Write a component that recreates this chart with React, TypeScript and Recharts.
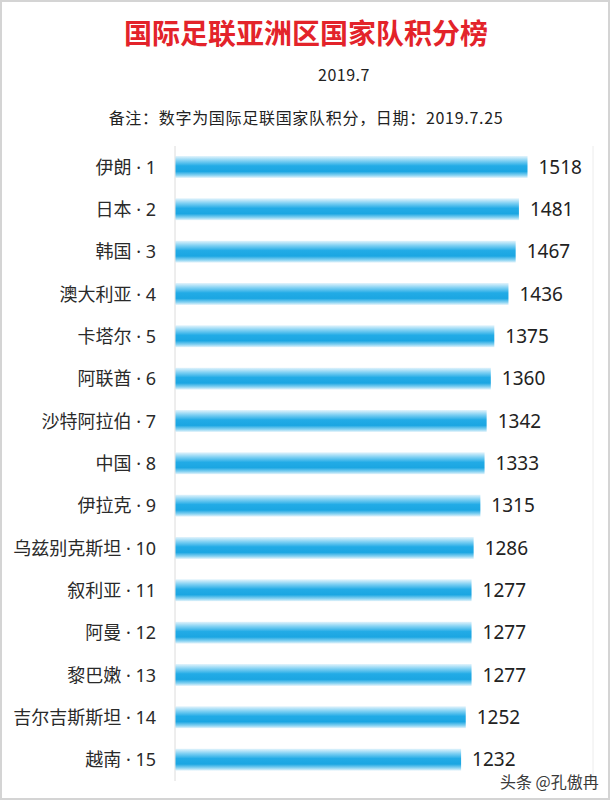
import React from "react";
import { BarChart, Bar, XAxis, YAxis, CartesianGrid, LabelList } from "recharts";

const countries = [
  "伊朗", "日本", "韩国", "澳大利亚", "卡塔尔", "阿联酋", "沙特阿拉伯", "中国",
  "伊拉克", "乌兹别克斯坦", "叙利亚", "阿曼", "黎巴嫩", "吉尔吉斯斯坦", "越南",
];
const ranks = [1, 2, 3, 4, 5, 6, 7, 8, 9, 10, 11, 12, 13, 14, 15];
const points = [1518, 1481, 1467, 1436, 1375, 1360, 1342, 1333, 1315, 1286, 1277, 1277, 1277, 1252, 1232];
const gridTicks = [0, 200, 400, 600, 800, 1000, 1200, 1400, 1600, 1800];

const data = countries.map((name, i) => ({
  label: `${name} · ${ranks[i]}`,
  points: points[i],
}));

const CJK = '"Noto Sans CJK SC", "Noto Sans", sans-serif';
const MIXED = '"Noto Sans", "Noto Sans CJK SC", sans-serif';

export default function App() {
  return (
    <div
      style={{
        position: "absolute",
        left: 0,
        top: 0,
        width: 610,
        height: 800,
        boxSizing: "border-box",
        border: "2px solid #d4d4d4",
        background: "#fff",
        fontFamily: CJK,
        overflow: "hidden",
      }}
    >
      <div
        style={{
          position: "absolute",
          left: 0,
          top: 12,
          width: 608,
          textAlign: "center",
          color: "#e3232a",
          fontSize: 28,
          fontWeight: 700,
          lineHeight: "36px",
        }}
      >
        国际足联亚洲区国家队积分榜
      </div>
      <div
        style={{
          position: "absolute",
          left: 292,
          top: 61,
          width: 100,
          textAlign: "center",
          color: "#222",
          fontSize: 16,
          letterSpacing: 0.5,
          lineHeight: "22px",
        }}
      >
        2019.7
      </div>
      <div
        style={{
          position: "absolute",
          left: 0,
          top: 103,
          width: 608,
          textAlign: "center",
          color: "#222",
          fontSize: 16,
          letterSpacing: 0.7,
          lineHeight: "24px",
        }}
      >
        备注：数字为国际足联国家队积分，日期：2019.7.25
      </div>

      <div style={{ position: "absolute", left: -2, top: -2 }}>
        <BarChart
          width={610}
          height={800}
          data={data}
          layout="vertical"
          margin={{ top: 146, right: 17, bottom: 19, left: 0 }}
          barCategoryGap={0}
        >
          <defs>
            <linearGradient id="barGrad" x1="0" y1="0" x2="0" y2="1">
              <stop offset="0%" stopColor="#e4f4fc" />
              <stop offset="22%" stopColor="#7fd0f3" />
              <stop offset="45%" stopColor="#22abe6" />
              <stop offset="70%" stopColor="#1ba6e2" />
              <stop offset="88%" stopColor="#8ad3f2" />
              <stop offset="100%" stopColor="#eaf6fc" />
            </linearGradient>
          </defs>
          <CartesianGrid horizontal={false} stroke="#ececec" />
          <XAxis
            type="number"
            domain={[0, 1800]}
            ticks={gridTicks}
            tick={false}
            axisLine={false}
            tickLine={false}
            height={0}
          />
          <YAxis
            type="category"
            dataKey="label"
            width={175}
            axisLine={{ stroke: "#e6e6e6" }}
            tickLine={false}
            tickMargin={13}
            tick={{ fill: "#2a2a2a", fontSize: 18, fontFamily: MIXED }}
            interval={0}
          />
          <Bar dataKey="points" fill="url(#barGrad)" barSize={22} isAnimationActive={false}>
            <LabelList
              dataKey="points"
              position="right"
              offset={11}
              fill="#222"
              fontSize={19}
              fontFamily={MIXED}
            />
          </Bar>
        </BarChart>
      </div>

      <div
        style={{
          position: "absolute",
          left: 498,
          top: 767,
          color: "#3a3a3a",
          fontSize: 16,
          lineHeight: "24px",
          textShadow: "0 0 2px #fff",
        }}
      >
        头条 @孔傲冉
      </div>
    </div>
  );
}
